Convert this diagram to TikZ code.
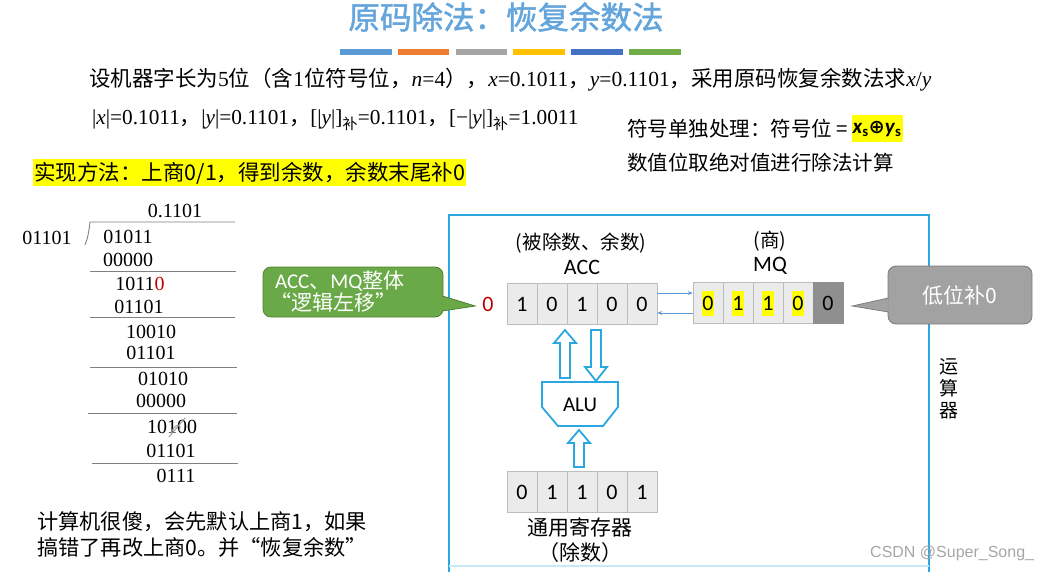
\documentclass[tikz,border=0pt]{standalone}
\usepackage{fontspec}
\setmainfont{Liberation Serif}
\newfontfamily\cjk{Noto Sans CJK SC}
\newfontfamily\cjkb[FakeBold=1.5]{Noto Sans CJK SC}
\newfontfamily\carl{Carlito}
\newfontfamily\dvs{DejaVu Sans}
\newfontfamily\lsans{Liberation Sans}
\definecolor{titleblue}{HTML}{64A5DC}
\definecolor{skyb}{HTML}{2AA7E1}
\definecolor{lineb}{HTML}{5B9BD5}
\definecolor{cellfill}{HTML}{EBEBEB}
\definecolor{cellline}{HTML}{BDBDBD}
\definecolor{darkcell}{HTML}{8F8F8F}
\definecolor{calgreen}{HTML}{6AA947}
\definecolor{calgreenb}{HTML}{4F7F33}
\definecolor{calgray}{HTML}{A2A2A2}
\definecolor{calgrayb}{HTML}{7C7C7C}
\definecolor{darkred}{HTML}{C00000}
\definecolor{barA}{HTML}{5B9BD5}
\definecolor{barB}{HTML}{ED7D31}
\definecolor{barC}{HTML}{A5A5A5}
\definecolor{barD}{HTML}{FFC000}
\definecolor{barE}{HTML}{4472C4}
\definecolor{barF}{HTML}{70AD47}
\definecolor{hlyellow}{HTML}{FFFF00}
\usetikzlibrary{arrows.meta}
\tikzset{
  cell/.style={draw=cellline, fill=cellfill, minimum width=30pt, minimum height=41pt, inner sep=0pt, font=\carl\fontsize{22}{22}\selectfont},
  divnum/.style={inner sep=0pt, font=\fontsize{20}{20}\selectfont},
  divline/.style={draw=gray, line width=0.9pt},
  cjktext/.style={inner sep=0pt, font=\cjk\fontsize{20.5}{24}\selectfont, anchor=west},
  serifline/.style={inner sep=0pt, font=\fontsize{21.5}{24}\selectfont, anchor=west},
  reglabel/.style={inner sep=0pt, font=\cjk\fontsize{19.5}{22}\selectfont},
  blockarrow/.style={draw=skyb, line width=1.8pt, fill=white, line join=miter},
  regarrow/.style={draw=lineb, line width=0.9pt, -{Stealth[length=5pt,width=4pt]}},
  hl/.style={fill=hlyellow, inner sep=0pt, minimum width=12pt, minimum height=25pt, font=\carl\fontsize{22}{22}\selectfont},
}
\begin{document}
\begin{tikzpicture}[x=1pt,y=-1pt]
\useasboundingbox (0,0) rectangle (1047,572);

% title
\node[inner sep=0pt, text=titleblue, font=\cjkb\fontsize{31.5}{32}\selectfont] (title) at (506,17) {原码除法：恢复余数法};
% colour bars
\foreach \c [count=\i] in {barA,barB,barC,barD,barE,barF}
  \fill[\c] ({340+57.8*(\i-1)},49) rectangle ++(51.5,6);

% problem statement
\node[serifline] (l1) at (89,80) {{\cjk 设机器字长为}5{\cjk 位（含}1{\cjk 位符号位，}\textit{n}=4{\cjk ），}\textit{x}=0.1011{\cjk ，}\textit{y}=0.1101{\cjk ，采用原码恢复余数法求}\textit{x}/\textit{y}};
\node[serifline, font=\fontsize{21.3}{24}\selectfont] (l2) at (92,120) {|\textit{x}|=0.1011{\cjk ，}|\textit{y}|=0.1101{\cjk ，}[|\textit{y}|]\textsubscript{\cjk 补}=0.1101{\cjk ，}[−|\textit{y}|]\textsubscript{\cjk 补}=1.0011};

% sign handling
\node[cjktext] (s1) at (627,129) {符号单独处理：符号位 =};
\node[fill=hlyellow, inner xsep=1pt, minimum height=27pt, anchor=west, font=\carl\bfseries\fontsize{21}{21}\selectfont] (s2) at ([xshift=3pt]s1.east) {\textit{x}\textsubscript{s}{\dvs\fontsize{19}{19}\selectfont ⊕}\textit{y}\textsubscript{s}};
\node[cjktext] (s3) at (627,163) {数值位取绝对值进行除法计算};

% method
\node[cjktext, font=\cjk\fontsize{21.5}{24}\selectfont, fill=hlyellow, inner xsep=1pt, minimum height=27pt] (method) at (33,173) {实现方法：上商0/1，得到余数，余数末尾补0};

% long division
\node[divnum] (q) at (175,211) {0.1101};
\node[divnum] (dv) at (47,238) {01101};
\node[divnum] (r1) at (128,237) {01011};
\node[divnum] (t1) at (128,260) {00000};
\node[divnum] (r2) at (140,284) {1011{\color{darkred}0}};
\node[divnum] (t2) at (139,307) {01101};
\node[divnum] (r3) at (151,332) {10010};
\node[divnum] (t3) at (151,353) {01101};
\node[divnum] (r4) at (163,379) {01010};
\node[divnum] (t4) at (161,401) {00000};
\node[divnum] (r5) at (172,427) {10100};
\node[divnum] (t5) at (171,451) {01101};
\node[divnum] (r6) at (176,476) {0111};
\draw[gray!80, line width=0.9pt] (169,437) -- (185,418) (171,433) .. controls (175,423) and (183,423) .. (179,431);
\draw[divline] (85,245) .. controls (88,238) and (89,230) .. (90,222) -- (235,222);
\draw[divline] (90,271) -- (236,271);
\draw[divline] (90,317) -- (235,317);
\draw[divline] (90,367) -- (237,367);
\draw[divline] (88,413) -- (237,413);
\draw[divline] (92,463) -- (238,463);

% bottom-left remark
\node[cjktext, font=\cjk\fontsize{21.2}{24}\selectfont] (rm1) at (37,522) {计算机很傻，会先默认上商1，如果};
\node[cjktext, font=\cjk\fontsize{21.2}{24}\selectfont] (rm2) at (37,547) {搞错了再改上商0。并“恢复余数”};

% arithmetic unit frame
\draw[skyb, line width=2.6pt] (449,572) -- (449,215) -- (929,215) -- (929,572);
\draw[skyb!25, line width=2pt] (449,566) -- (929,566);
\node[reglabel, font=\cjk\fontsize{19}{21}\selectfont, align=center] (yun) at (949,389) {运\\[1pt]算\\[1pt]器};

% ACC
\node[reglabel] (accl1) at (581,243) {(被除数、余数)};
\node[reglabel, font=\carl\fontsize{22}{22}\selectfont] (accl2) at (582,267) {ACC};
\foreach \d [count=\i] in {1,0,1,0,0}
  \node[cell] (a\i) at ({492+30*\i},304) {\d};
\node[inner sep=0pt, text=darkred, font=\carl\fontsize{22}{22}\selectfont] (r0) at (488,304) {0};

% MQ
\node[reglabel] (mql1) at (770,241) {(商)};
\node[reglabel, font=\carl\fontsize{22}{22}\selectfont] (mql2) at (770,266) {MQ};
\foreach \d [count=\i] in {0,1,1,0}
  {\node[cell] (m\i) at ({678+30*\i},303) {};
   \node[hl] (h\i) at (m\i) {\d};}
\node[cell, fill=darkcell, draw=darkcell] (m5) at (828,303) {0};

% ACC <-> MQ
\draw[regarrow] ([yshift=11pt]a5.east) -- ([yshift=10pt]m1.west);
\draw[regarrow] ([yshift=-10pt]m1.west) -- ([yshift=-9pt]a5.east);

% green callout
\node[fill=calgreen, draw=calgreenb, line width=0.8pt, rounded corners=8pt, minimum width=180pt, minimum height=50pt, text width=166pt, inner xsep=7pt, inner ysep=0pt, text=white, align=left, font=\cjk\fontsize{21}{22}\selectfont] (g) at (353,292) {\hspace*{5pt}{\carl ACC}、{\carl MQ}整体\\“逻辑左移”};
\coordinate (gtip) at ([xshift=-7pt,yshift=-2pt]r0.west);
\path[fill=calgreen, draw=calgreenb, line width=0.8pt] ([xshift=-1pt,yshift=-4pt]g.east) -- (gtip) -- ([xshift=-1pt,yshift=-19pt]g.east);

% gray callout
\node[fill=calgray, draw=calgrayb, line width=0.8pt, rounded corners=8pt, minimum width=144pt, minimum height=58pt, text=white, font=\cjk\fontsize{21}{22}\selectfont, inner sep=0pt] (gr) at (960,295) {低位补0};
\coordinate (grtip) at ([xshift=9pt,yshift=-3pt]m5.east);
\path[fill=calgray, draw=calgrayb, line width=0.8pt] ([xshift=1pt,yshift=-3pt]gr.west) -- (grtip) -- ([xshift=1pt,yshift=-17pt]gr.west);

% ALU
\draw[skyb, line width=1.8pt, line join=miter] (542,382) -- (618,382) -- (618,407) -- (603,426) -- (558,426) -- (542,407) -- cycle;
\node[inner sep=0pt, font=\carl\fontsize{21}{21}\selectfont] (alu) at (580,405) {ALU};
% hollow arrows
\draw[blockarrow] (560,378) -- (560,343) -- (554,343) -- (565,330) -- (576,343) -- (570,343) -- (570,378) -- cycle;
\draw[blockarrow] (591,330) -- (591,367) -- (585,367) -- (596,381) -- (607,367) -- (601,367) -- (601,330) -- cycle;
\draw[blockarrow] (574,467) -- (574,443) -- (568,443) -- (579,430) -- (590,443) -- (584,443) -- (584,467) -- cycle;

% general register
\foreach \d [count=\i] in {0,1,1,0,1}
  \node[cell] (b\i) at ({492+30*\i},492) {\d};
\node[reglabel, font=\cjk\fontsize{21}{22}\selectfont] (bl1) at (580,528) {通用寄存器};
\node[reglabel, font=\cjk\fontsize{21}{22}\selectfont] (bl2) at (580,553) {（除数）};

% watermark
\node[inner sep=0pt, anchor=west, text=gray!70, font=\lsans\fontsize{16}{16}\selectfont] (wm) at (870,553) {CSDN @Super\_Song\_};
\end{tikzpicture}
\end{document}
